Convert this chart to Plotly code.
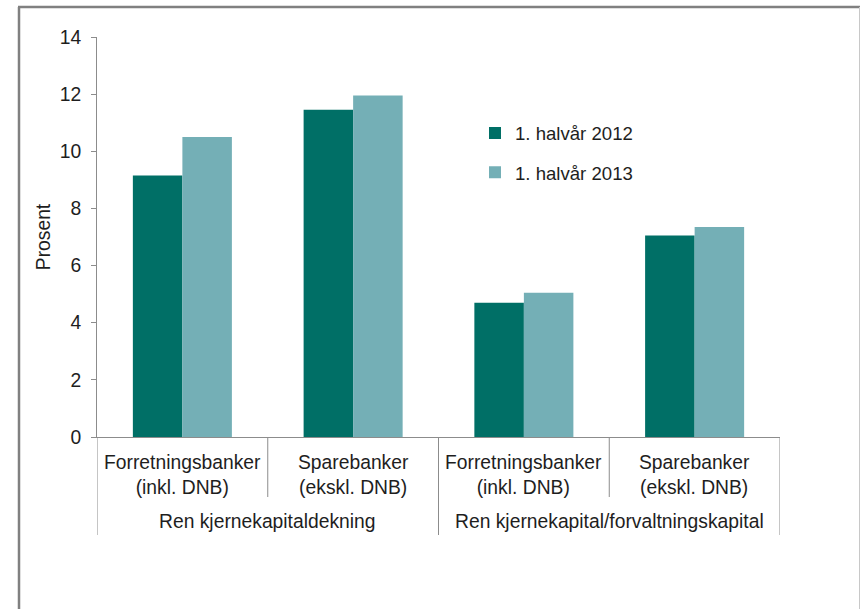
import plotly.graph_objects as go

inner_labels = ["Forretningsbanker<br>(inkl. DNB)", "Sparebanker<br>(ekskl. DNB)",
                "Forretningsbanker<br>(inkl. DNB)", "Sparebanker<br>(ekskl. DNB)"]
outer_labels = ["Ren kjernekapitaldekning", "Ren kjernekapital/forvaltningskapital"]
series_names = ["1. halvår 2012", "1. halvår 2013"]
values_2012 = [9.15, 11.45, 4.7, 7.05]
values_2013 = [10.5, 11.95, 5.05, 7.35]
colors = ["#006f66", "#74afb6"]

W, H = 862, 609
L, R, T, B = 97, 82, 37, 172
pw, ph = W - L - R, H - T - B

def px_x(px):
    return (px - L) / pw

def px_y(py):
    return (H - B - py) / ph

xs = list(range(len(inner_labels)))

fig = go.Figure()
for name, vals, col in zip(series_names, [values_2012, values_2013], colors):
    fig.add_trace(go.Bar(x=xs, y=vals, name=name, marker=dict(color=col, line=dict(width=0)),
                         legendgroup=name))

font = "Liberation Sans, Arial, sans-serif"
txt = "#1e1e1e"
axis_col = "#8c8c8c"
fs = 19.3

fig.update_layout(
    width=W, height=H,
    margin=dict(l=L, r=R, t=T, b=B, autoexpand=False),
    paper_bgcolor="white", plot_bgcolor="white",
    barmode="group", bargap=0.42, bargroupgap=0,
    font=dict(family=font, size=fs, color=txt),
    showlegend=True,
    legend=dict(x=px_x(475), y=px_y(114.5), xanchor="left", yanchor="top",
                bgcolor="rgba(0,0,0,0)", font=dict(size=18.6, color=txt),
                traceorder="grouped", tracegroupgap=12),
    xaxis=dict(range=[-0.5, 3.5], showticklabels=False, ticks="", showgrid=False,
               showline=True, linecolor=axis_col, linewidth=1, zeroline=False, fixedrange=True),
    yaxis=dict(range=[0, 14], dtick=2, tick0=0, showgrid=False, zeroline=False,
               showline=True, linecolor=axis_col, linewidth=1,
               ticks="outside", ticklen=5, tickcolor=axis_col, ticklabelstandoff=6,
               tickfont=dict(size=fs, color=txt),
               title=dict(text="Prosent", font=dict(size=fs, color=txt), standoff=3)),
)

annotations = []
for i, lab in enumerate(inner_labels):
    annotations.append(dict(x=i, xref="x", y=px_y(475), yref="paper", text=lab, showarrow=False,
                            xanchor="center", yanchor="middle", align="center",
                            font=dict(size=fs, color=txt)))
for j, lab in enumerate(outer_labels):
    annotations.append(dict(x=2 * j + 0.5, xref="x", y=px_y(521), yref="paper", text=lab,
                            showarrow=False, xanchor="center", yanchor="middle",
                            font=dict(size=fs, color=txt)))
fig.update_layout(annotations=annotations)

shapes = []
# inner dividers
for xv in [0.5, 2.5]:
    shapes.append(dict(type="line", xref="x", yref="paper", x0=xv, x1=xv, y0=0, y1=px_y(497),
                       line=dict(color=axis_col, width=1)))
# outer dividers
for xv in [-0.5, 1.5, 3.5]:
    shapes.append(dict(type="line", xref="x", yref="paper", x0=xv, x1=xv, y0=0, y1=px_y(535),
                       line=dict(color=axis_col, width=1)))
# outer frame
shapes.append(dict(type="line", xref="paper", yref="paper", x0=px_x(19), x1=px_x(19),
                   y0=px_y(7), y1=px_y(615), line=dict(color="#808080", width=2.5)))
shapes.append(dict(type="line", xref="paper", yref="paper", x0=px_x(18), x1=px_x(860),
                   y0=px_y(7), y1=px_y(7), line=dict(color="#808080", width=2.5)))
shapes.append(dict(type="line", xref="paper", yref="paper", x0=px_x(859.5), x1=px_x(859.5),
                   y0=px_y(7), y1=px_y(615), line=dict(color="#c8c8c8", width=1)))
fig.update_layout(shapes=shapes)

fig.write_html("out.html")
